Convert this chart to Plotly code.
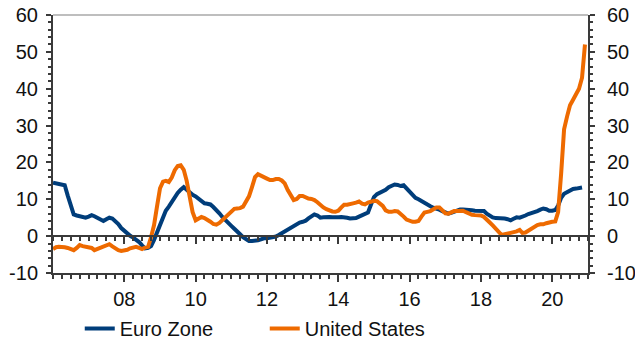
import pandas as pd
import plotly.graph_objects as go

# ---- data (monthly, Jan 2006 onwards) ----
euro_zone = [
    14.5, 14.3, 14.2, 14.0, 13.8, 11.0, 8.0, 5.9, 5.6, 5.4, 5.2, 5.0,      # 2006
    5.3, 5.7, 5.4, 5.0, 4.6, 4.1, 4.6, 5.0, 4.8, 4.2, 3.3, 2.2,            # 2007
    1.4, 0.7, 0.1, -0.4, -0.9, -1.6, -2.5, -3.3, -3.2, -2.7, -1.0, 1.0,    # 2008
    3.5, 5.4, 6.9, 8.0, 9.3, 10.4, 11.7, 12.6, 13.3, 12.6, 11.7, 11.2,     # 2009
    10.8, 10.2, 9.4, 8.9, 8.8, 8.6, 7.9, 7.2, 6.2, 5.2, 4.3, 3.3,          # 2010
    2.8, 2.0, 1.1, 0.5, -0.3, -0.9, -1.3, -1.3, -1.3, -1.1, -0.9, -0.6,    # 2011
    -0.6, -0.5, -0.4, -0.1, 0.3, 0.8, 1.3, 1.7, 2.2, 2.7, 3.2, 3.7,        # 2012
    3.9, 4.2, 4.8, 5.5, 5.9, 5.6, 5.0, 5.1, 5.2, 5.2, 5.1, 5.0,            # 2013
    5.1, 5.2, 5.2, 5.0, 4.8, 4.9, 4.9, 5.3, 5.6, 5.9, 6.4, 8.5,            # 2014
    10.6, 11.4, 11.8, 12.1, 12.6, 13.3, 13.8, 14.0, 13.9, 13.6, 13.8, 13.0,  # 2015
    11.9, 11.0, 10.4, 10.0, 9.5, 8.9, 8.6, 8.1, 7.7, 7.5, 7.2, 6.8,        # 2016
    6.4, 6.1, 6.3, 6.6, 7.0, 7.2, 7.2, 7.2, 7.2, 7.0, 6.9, 6.8,            # 2017
    6.8, 6.8, 6.1, 5.5, 5.1, 4.9, 4.9, 4.9, 4.8, 4.6, 4.3, 4.7,            # 2018
    5.1, 5.0, 5.2, 5.6, 6.0, 6.2, 6.4, 6.8, 7.2, 7.5, 7.3, 6.9,            # 2019
    6.9, 7.1, 8.3, 10.4, 11.5, 12.0, 12.3, 12.8, 12.9, 13.0, 13.2,         # 2020
]

united_states = [
    -3.5, -3.0, -2.9, -2.9, -3.0, -3.2, -3.4, -3.8, -3.2, -2.4, -2.7, -2.9,  # 2006
    -2.9, -3.2, -3.8, -3.5, -3.2, -3.0, -2.7, -2.2, -2.8, -3.4, -3.8, -4.0,  # 2007
    -3.9, -3.7, -3.3, -3.0, -2.9, -3.2, -3.5, -3.1, -2.9, -0.3, 3.0, 8.0,    # 2008
    13.0, 14.8, 15.0, 14.7, 15.9, 17.9, 19.0, 19.2, 18.0, 15.0, 11.0, 6.5,   # 2009
    4.3, 4.8, 5.2, 4.9, 4.5, 3.9, 3.3, 3.1, 3.6, 4.4, 5.2, 6.1,              # 2010
    6.9, 7.4, 7.5, 7.6, 8.0, 9.2, 10.8, 13.3, 16.0, 16.8, 16.3, 15.8,        # 2011
    15.6, 15.2, 15.2, 15.5, 15.5, 15.1, 14.3, 12.5, 10.9, 9.8, 10.1, 10.9,   # 2012
    10.9, 10.5, 10.2, 10.1, 9.8, 9.2, 8.4, 7.8, 7.3, 6.9, 6.7, 6.6,          # 2013
    6.9, 7.8, 8.5, 8.5, 8.6, 8.9, 9.1, 9.4, 8.8, 8.6, 9.1, 9.3,              # 2014
    9.6, 9.5, 9.0, 8.2, 7.0, 6.6, 6.6, 6.8, 6.7, 6.1, 5.3, 4.5,              # 2015
    4.1, 3.9, 3.9, 4.1, 5.3, 6.4, 6.6, 6.8, 7.3, 7.8, 7.8, 7.0,              # 2016
    6.2, 6.1, 6.4, 6.8, 6.8, 6.9, 6.9, 6.5, 6.1, 5.8, 5.7, 5.7,              # 2017
    5.6, 5.2, 4.3, 3.7, 2.9, 1.9, 1.1, 0.3, 0.5, 0.7, 0.8, 1.1,              # 2018
    1.3, 1.7, 0.9, 1.0, 1.5, 2.0, 2.6, 3.0, 3.2, 3.2, 3.5, 3.8,              # 2019
    3.9, 4.0, 6.5, 17.0, 29.0, 32.5, 35.5, 37.0, 38.5, 40.0, 43.0, 52.0,     # 2020
]

dates = pd.date_range("2006-01-01", periods=len(united_states), freq="MS")
tick_years = ["2008-01-01", "2010-01-01", "2012-01-01", "2014-01-01",
              "2016-01-01", "2018-01-01", "2020-01-01"]
tick_labels = ["08", "10", "12", "14", "16", "18", "20"]
y_ticks = [-10, 0, 10, 20, 30, 40, 50, 60]
y_tick_labels = ["-10", "0", "10", "20", "30", "40", "50", "60"]

NAVY = "#003D7A"
ORANGE = "#EE6A00"
AXIS = "#3A3A3A"
FONT = "Liberation Sans, Arial, sans-serif"

fig = go.Figure()
fig.add_trace(go.Scatter(x=dates[:len(euro_zone)], y=euro_zone, name="Euro Zone",
                         mode="lines", line=dict(color=NAVY, width=4)))
fig.add_trace(go.Scatter(x=dates, y=united_states, name="United States",
                         mode="lines", line=dict(color=ORANGE, width=4),
                         xaxis="x2", yaxis="y2"))

xcommon = dict(
    type="date", range=["2006-01-01", "2021-01-01"], automargin=False,
    tickvals=tick_years, showgrid=False, zeroline=False,
    showline=True, linecolor=AXIS, linewidth=2,
    ticks="outside", ticklen=7, tickwidth=1.5, tickcolor=AXIS,
    minor=dict(dtick="M3", tick0="2006-01-01", ticks="outside", ticklen=4,
               tickwidth=1.5, tickcolor=AXIS, showgrid=False),
)
ycommon = dict(
    range=[-10, 60], tickvals=y_ticks, ticktext=y_tick_labels,
    showgrid=False, zeroline=False, automargin=False,
    showline=True, linecolor=AXIS, linewidth=2,
    ticks="outside", ticklen=5, tickwidth=1.5, tickcolor=AXIS,
    minor=dict(dtick=2, tick0=0, ticks="outside", ticklen=3, tickwidth=1.5,
               tickcolor=AXIS, showgrid=False),
    tickfont=dict(family=FONT, size=20, color="#111111"),
)

fig.update_layout(
    width=635, height=341,
    margin=dict(l=53, r=47, t=15, b=68, autoexpand=False),
    paper_bgcolor="white", plot_bgcolor="white",
    xaxis=dict(**xcommon, ticktext=tick_labels, anchor="y",
               ticklabelstandoff=0,
               tickfont=dict(family=FONT, size=20, color="#111111")),
    xaxis2=dict(**xcommon, overlaying="x", matches="x", anchor="free",
                position=10 / 70, showticklabels=False),
    yaxis=dict(**ycommon, side="left", anchor="x", ticklabelstandoff=4),
    yaxis2=dict(**ycommon, side="right", overlaying="y", matches="y",
                anchor="x", ticklabelstandoff=8),
    legend=dict(orientation="h", x=0.05, y=-0.215, xanchor="left",
                yanchor="middle", font=dict(family=FONT, size=20, color="#111111"),
                entrywidth=140, bgcolor="rgba(0,0,0,0)"),
    shapes=[dict(type="line", xref="paper", yref="paper", x0=0, x1=1, y0=1, y1=1,
                 line=dict(color="#7F7F7F", width=1.2))],
)

fig.write_html(
    "out.html",
    config={"displayModeBar": False},
    post_script="document.body.style.margin='0';document.body.style.overflow='hidden';",
)
